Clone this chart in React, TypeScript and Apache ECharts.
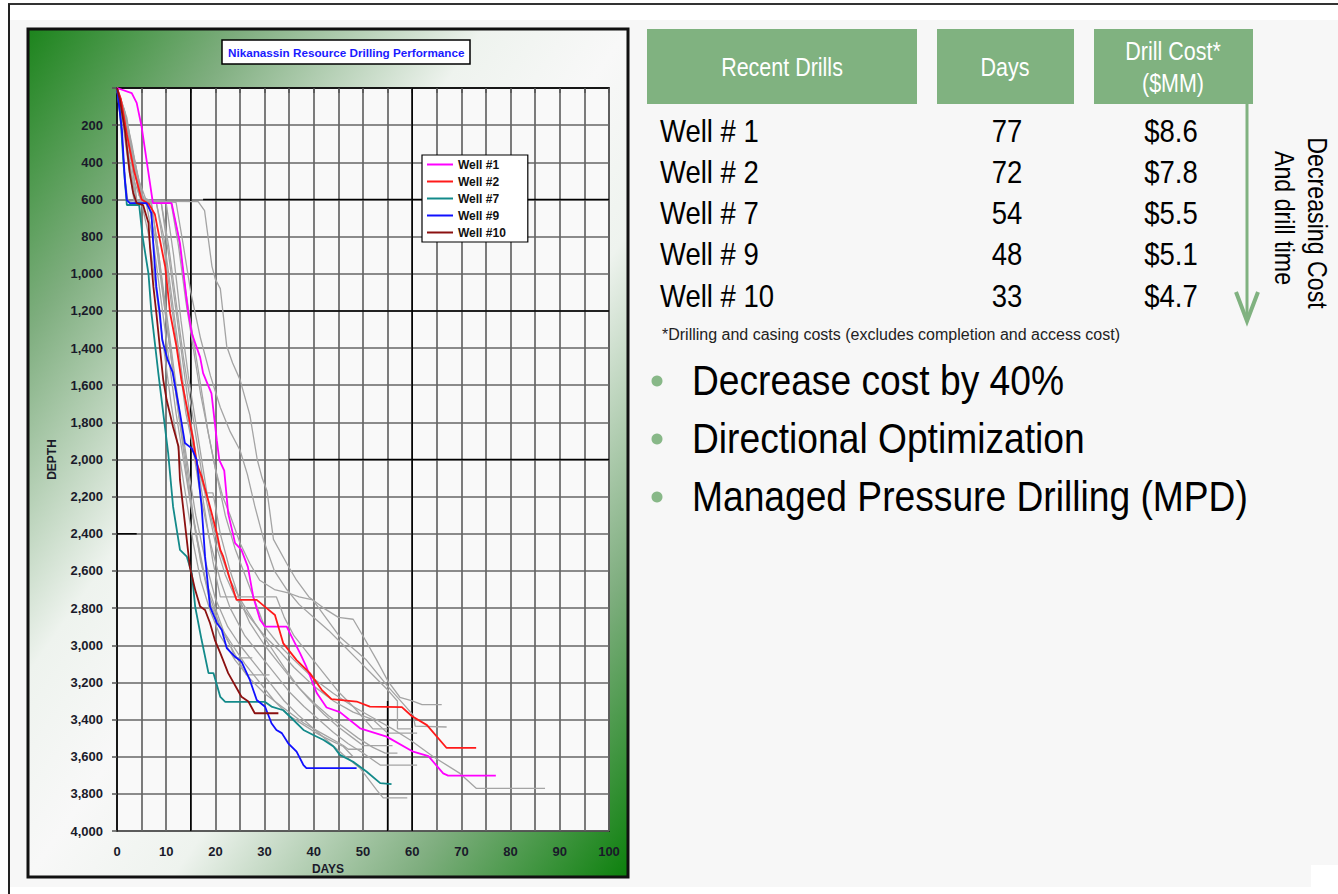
import React, { useEffect, useRef } from 'react';
import * as echarts from 'echarts';

type Pt = [number, number];

// ---------- chart data (days, depth) ----------
const well1: Pt[] = [[0,0],[3,28],[4,80],[5,208],[6.3,441],[7.3,620],[11.1,620],[12.8,835],[14.4,1195],[15.2,1320],[16.9,1450],[17.5,1535],[19.2,1644],[20.3,1900],[20.8,2003],[21.8,2060],[22.6,2290],[24,2450],[25.3,2487],[26.6,2578],[27.7,2740],[29.1,2864],[30.1,2900],[34.5,2900],[35.8,2970],[37.2,3042],[38.5,3117],[40.6,3257],[42.6,3335],[45.3,3360],[49.4,3447],[54.8,3492],[60.2,3573],[63.3,3597],[66.3,3690],[67.3,3702],[77,3702]];
const well2: Pt[] = [[0,0],[0.8,60],[2,250],[3.5,450],[5,600],[6.5,625],[7.7,680],[9.8,963],[10.8,1212],[12.1,1393],[13.1,1572],[14.2,1717],[15.5,1895],[16.2,2020],[17.2,2092],[18.9,2254],[20.3,2397],[21,2487],[21.6,2523],[23,2649],[24.3,2756],[28.4,2756],[30.4,2800],[32.1,2837],[33.8,2990],[36.5,3080],[39.2,3150],[41.6,3240],[43.6,3290],[48.7,3303],[51.4,3330],[57.9,3333],[59.9,3381],[63,3430],[67,3553],[73,3553]];
const well7: Pt[] = [[0,0],[0.7,150],[1.3,400],[2,630],[4.5,630],[5.2,800],[6.4,1000],[7,1212],[8.4,1535],[9.4,1750],[10.4,1966],[11.4,2254],[12.8,2487],[14.2,2523],[15.2,2612],[15.9,2794],[17.2,2972],[18.6,3150],[19.6,3150],[21,3278],[22,3305],[30.1,3305],[31.4,3330],[33.8,3350],[35.5,3393],[37.9,3456],[39.9,3483],[42,3510],[44,3545],[45.3,3590],[48,3627],[50.7,3680],[53.5,3742],[55.8,3748]];
const well9: Pt[] = [[0,0],[1,226],[1.6,495],[2,603],[2.6,620],[6,620],[7,673],[7.4,855],[8,1071],[8.7,1212],[9.2,1357],[10.3,1464],[11.3,1530],[12.8,1750],[13.8,1911],[15.2,1940],[16.2,2003],[17.2,2254],[17.9,2523],[18.9,2792],[20.3,2880],[21.3,2918],[22.3,3015],[24,3062],[25.3,3088],[27,3187],[28.4,3295],[30.1,3331],[31.4,3420],[32.4,3456],[33.5,3473],[34.8,3528],[36.5,3573],[37.9,3645],[38.5,3662],[48.7,3662]];
const well10: Pt[] = [[0,0],[0.6,65],[1.6,226],[2.6,458],[3.3,565],[4,620],[5.3,630],[6.4,727],[6.7,855],[7.4,1071],[8,1212],[8.7,1393],[9.4,1572],[10.1,1680],[11.4,1825],[12.5,1930],[12.8,2110],[13.8,2342],[14.8,2577],[15.9,2703],[16.9,2792],[17.9,2810],[18.9,2880],[19.9,2972],[21,3042],[22.6,3150],[24.3,3230],[25.3,3277],[26.7,3303],[28,3366],[32.8,3366]];

const gray1: Pt[] = [[0,0],[1.5,120],[3,300],[4.5,520],[5.5,605],[10,610],[16.5,612],[17.8,660],[18.5,800],[19.3,960],[20,1030],[21,1080],[22.3,1390],[23.5,1480],[25,1570],[27,1760],[28.5,2000],[29.5,2100],[30.5,2170],[31.8,2430],[34.5,2560],[36.5,2650],[39,2740],[42,2800],[45,2850],[48,2860],[50,2950],[52.8,3080],[55,3190],[57.5,3280],[60,3300],[62,3320],[66,3320]];
const gray2: Pt[] = [[0,0],[2,180],[4,450],[5.5,610],[11,620],[12.5,850],[14,1150],[15.5,1400],[17,1650],[18.5,1850],[20,2050],[21.5,2200],[23,2300],[25,2450],[27,2560],[29,2650],[32,2700],[35,2720],[37,2740],[39.8,2756],[45.3,2955],[50.7,3080],[55,3220],[60.2,3376],[60.6,3435],[67,3440]];
const gray3: Pt[] = [[0,0],[2,200],[4.5,500],[6,610],[11,615],[12.5,800],[14,1100],[15.5,1350],[17,1600],[18.5,1850],[20,2050],[22,2300],[24,2480],[26,2620],[28,2760],[30,2900],[33,3000],[36,3080],[40,3180],[44,3260],[48,3330],[52,3390],[56,3450],[59.6,3510],[64.3,3600],[69.7,3690],[73,3770],[87,3770]];
const gray4: Pt[] = [[0,0],[1.5,150],[3.5,420],[5,600],[9,620],[10.5,850],[12,1150],[13.5,1450],[15,1700],[16.5,1950],[18,2200],[20,2450],[22,2620],[24,2740],[27,2850],[30,2950],[33,3030],[36,3120],[40,3220],[44,3300],[48,3360],[52,3400],[55,3473],[61,3473]];
const gray5: Pt[] = [[0,0],[1,100],[3,350],[4.5,580],[8,620],[9.5,800],[11,1100],[12.5,1400],[14,1700],[15.5,1950],[17,2200],[19,2450],[21,2650],[23,2800],[26,2950],[29,3050],[32,3150],[35,3250],[38,3330],[41,3400],[44,3470],[47,3530],[50,3580],[53.5,3645],[61,3645]];
const gray6: Pt[] = [[0,0],[1.5,120],[3,380],[4,600],[7,625],[8.5,900],[10,1200],[11.5,1500],[13,1800],[14.5,2050],[16,2300],[18,2550],[20,2750],[22.5,2900],[25,3000],[28,3100],[31,3200],[34,3300],[37,3380],[40,3450],[43,3520],[46,3590],[49.4,3662],[52.8,3780],[54.1,3822],[59,3822]];
const gray7: Pt[] = [[0,0],[2,220],[4,500],[5.5,615],[10,620],[11.5,900],[13,1250],[14.5,1550],[16,1800],[17.5,2050],[19,2300],[21,2500],[23,2650],[25,2750],[28,2880],[31,3000],[34,3120],[37,3230],[40,3310],[43,3380],[46,3440],[49,3500],[52,3550],[54.5,3581],[57,3581]];
const gray8: Pt[] = [[0,0],[1,150],[2.5,450],[3.5,610],[6,625],[7.5,850],[9,1150],[10.5,1450],[12,1750],[13.5,2000],[15,2250],[16.5,2450],[18,2650],[20,2800],[22,2950],[24,3050],[26.3,3160],[31,3160]];
const gray9: Pt[] = [[0,0],[1.5,200],[3,480],[4,610],[7,620],[8.5,900],[10,1250],[11.5,1550],[13,1850],[14.5,2150],[16,2400],[17.5,2600],[19,2780],[21,2900],[23,3000],[24,3068],[27.5,3068]];
const gray10: Pt[] = [[0,0],[2,250],[3.5,500],[5,615],[9,620],[10.5,900],[12,1200],[13.5,1500],[15,1800],[16.5,2050],[18,2300],[19.5,2550],[21,2740],[32.4,2740],[34,2850],[36,2950],[39,3050],[42,3150],[45,3250],[48,3330],[52,3450],[55,3450]];
const gray11: Pt[] = [[0,0],[1,120],[2.5,400],[4,610],[8,615],[9.5,850],[11,1150],[12.5,1450],[14,1750],[16,2000],[17.9,2180],[19.5,2180],[21,2400],[23,2600],[25,2760],[27,2880],[30,3000],[33,3100],[36,3200],[39,3290],[42,3370],[45,3440],[48,3500],[50,3540],[56,3540]];
const gray12: Pt[] = [[0,0],[2,160],[3.5,420],[5,600],[6.5,630],[8,850],[9.5,1150],[11,1450],[12.5,1750],[14,2000],[15.5,2300],[17,2550],[19,2750],[21,2900],[23.5,3000],[26,3100],[29,3200],[32,3300],[35,3380],[38,3430],[41,3480],[44,3520],[46,3545],[48,3600],[50,3600]];
const gray13: Pt[] = [[0,0],[2,200],[4,480],[5.5,605],[12,615],[13.5,850],[15,1100],[17,1350],[19,1550],[21,1720],[23,1850],[25,1950],[26.5,2080],[28,2250],[30,2450],[32,2600],[34.5,2700],[37,2780],[40,2850],[43,2920],[46,3000],[49,3080],[52,3160],[55,3240],[57,3300],[57,3450],[60,3450]];
const gray14: Pt[] = [[0,0],[0.8,200],[1.5,450],[2.2,610],[5,620],[6.5,800],[8,1100],[9.5,1400],[11,1700],[12.5,1950],[14,2200],[15.5,2450],[17,2650],[19,2820],[21,2950],[24,3080],[27,3180],[30,3260],[34,3340],[38,3420],[42,3480],[46,3540],[47,3560],[50,3560]];

// dark overlay grid segments (from a second overlaid chart grid)
const overlayDay15: Pt[] = [[15,0],[15,4000]];
const overlayDay60: Pt[] = [[60,0],[60,4000]];
const overlayDay55: Pt[] = [[55,3300],[55,4000]];
const overlayDepth600: Pt[] = [[17.5,600],[100,600]];
const overlayDepth1200: Pt[] = [[15,1200],[100,1200]];
const overlayDepth2000: Pt[] = [[35,2000],[100,2000]];
const overlayDepth2400: Pt[] = [[0,2400],[4,2400]];

const wellNames = ['Well #1', 'Well #2', 'Well #7', 'Well #9', 'Well #10'];
const wellColors = ['#ff00ff', '#ff1a1a', '#138a8a', '#1010ff', '#8b1010'];
const wellData = [well1, well2, well7, well9, well10];
const grayWells = [gray1, gray2, gray3, gray4, gray5, gray6, gray7, gray8, gray9, gray10, gray11, gray12, gray13, gray14];
const overlays = [overlayDay15, overlayDay60, overlayDay55, overlayDepth600, overlayDepth1200, overlayDepth2000, overlayDepth2400];

const dayTickLabels = ['0', '', '10', '', '20', '', '30', '', '40', '', '50', '', '60', '', '70', '', '80', '', '90', '', '100'];
const depthTickLabels = ['', '200', '400', '600', '800', '1,000', '1,200', '1,400', '1,600', '1,800', '2,000', '2,200', '2,400', '2,600', '2,800', '3,000', '3,200', '3,400', '3,600', '3,800', '4,000'];

// ---------- table / text data ----------
const headers = ['Recent Drills', 'Days', 'Drill Cost*', '($MM)'];
const tableWells = ['Well # 1', 'Well # 2', 'Well # 7', 'Well # 9', 'Well # 10'];
const tableDays = ['77', '72', '54', '48', '33'];
const tableCost = ['$8.6', '$7.8', '$5.5', '$5.1', '$4.7'];
const footnote = '*Drilling and casing costs (excludes completion and access cost)';
const arrowLabels = ['Decreasing Cost', 'And drill time'];
const bullets = ['Decrease cost by 40%', 'Directional Optimization', 'Managed Pressure Drilling (MPD)'];
const chartTitle = 'Nikanassin Resource Drilling Performance';

const FONT = "'Liberation Sans', Arial, Helvetica, sans-serif";
const GREEN = '#80b280';

export default function App() {
  const ref = useRef<HTMLDivElement>(null);
  useEffect(() => {
    if (!ref.current) return;
    const chart = echarts.init(ref.current, null, { renderer: 'svg', width: 1338, height: 894 });

    const narrow = 0.86;
    const graphic: any[] = [];
    // page
    graphic.push({ type: 'rect', z: -100, shape: { x: 0, y: 0, width: 1338, height: 894 }, style: { fill: '#ffffff' } });
    graphic.push({ type: 'rect', z: -99, shape: { x: 10, y: 20, width: 1328, height: 867 }, style: { fill: '#f7f7f7' } });
    graphic.push({ type: 'rect', z: -98, shape: { x: 1311, y: 865, width: 27, height: 22 }, style: { fill: '#ffffff' } });
    graphic.push({ type: 'line', z: -97, shape: { x1: 8, y1: 4, x2: 1338, y2: 4 }, style: { stroke: '#333', lineWidth: 2 } });
    graphic.push({ type: 'line', z: -97, shape: { x1: 9, y1: 4, x2: 9, y2: 894 }, style: { stroke: '#222', lineWidth: 2 } });
    // chart panel with diagonal green gradient
    graphic.push({
      type: 'rect', z: -90,
      shape: { x: 28, y: 29, width: 600, height: 848 },
      style: {
        fill: new echarts.graphic.LinearGradient(0, 0, 1, 1, [
          { offset: 0, color: '#1c841c' },
          { offset: 0.18, color: '#7fae7f' },
          { offset: 0.38, color: '#eef3ee' },
          { offset: 0.5, color: '#f8f8f8' },
          { offset: 0.62, color: '#eef3ee' },
          { offset: 0.82, color: '#7fae7f' },
          { offset: 1, color: '#0c800c' },
        ]),
        stroke: '#111', lineWidth: 3,
      },
    });

    // table headers
    const headerBoxes = [
      { x: 647, w: 270 },
      { x: 937, w: 137 },
      { x: 1094, w: 159 },
    ];
    headerBoxes.forEach((b) => {
      graphic.push({ type: 'rect', z: 5, shape: { x: b.x, y: 29, width: b.w, height: 75 }, style: { fill: GREEN } });
    });
    const headerText = (text: string, cx: number, cy: number) => ({
      type: 'text', z: 6, x: cx, y: cy, scaleX: narrow,
      style: { text, fill: '#ffffff', fontSize: 25, fontFamily: FONT, align: 'center', verticalAlign: 'middle' },
    });
    graphic.push(headerText(headers[0], 782, 67));
    graphic.push(headerText(headers[1], 1005, 67));
    graphic.push(headerText(headers[2], 1173, 51));
    graphic.push(headerText(headers[3], 1173, 83));

    const rowY = [131, 172, 213, 254, 296];
    tableWells.forEach((w, i) => {
      graphic.push({ type: 'text', z: 6, x: 660, y: rowY[i], scaleX: narrow,
        style: { text: w, fill: '#000', fontSize: 32, fontFamily: FONT, align: 'left', verticalAlign: 'middle' } });
      graphic.push({ type: 'text', z: 6, x: 1007, y: rowY[i], scaleX: narrow,
        style: { text: tableDays[i], fill: '#000', fontSize: 32, fontFamily: FONT, align: 'center', verticalAlign: 'middle' } });
      graphic.push({ type: 'text', z: 6, x: 1171, y: rowY[i], scaleX: narrow,
        style: { text: tableCost[i], fill: '#000', fontSize: 32, fontFamily: FONT, align: 'center', verticalAlign: 'middle' } });
    });

    // arrow
    graphic.push({ type: 'line', z: 6, shape: { x1: 1247, y1: 104, x2: 1247, y2: 318 }, style: { stroke: GREEN, lineWidth: 3 } });
    graphic.push({ type: 'polyline', z: 6, shape: { points: [[1236, 292], [1247, 321], [1258, 292]] }, style: { stroke: GREEN, lineWidth: 4, fill: 'none' } });
    graphic.push({ type: 'text', z: 6, x: 1318, y: 223, rotation: -Math.PI / 2, scaleX: narrow,
      style: { text: arrowLabels[0], fill: '#000', fontSize: 27, fontFamily: FONT, align: 'center', verticalAlign: 'middle' } });
    graphic.push({ type: 'text', z: 6, x: 1285, y: 218, rotation: -Math.PI / 2, scaleX: narrow,
      style: { text: arrowLabels[1], fill: '#000', fontSize: 27, fontFamily: FONT, align: 'center', verticalAlign: 'middle' } });

    graphic.push({ type: 'text', z: 6, x: 662, y: 334,
      style: { text: footnote, fill: '#222', fontSize: 16, fontFamily: FONT, align: 'left', verticalAlign: 'middle' } });

    const bulletY = [381, 439, 497];
    bullets.forEach((b, i) => {
      graphic.push({ type: 'circle', z: 6, shape: { cx: 657, cy: bulletY[i], r: 5.5 }, style: { fill: '#88b888' } });
      graphic.push({ type: 'text', z: 6, x: 692, y: bulletY[i], scaleX: 0.865,
        style: { text: b, fill: '#000', fontSize: 43, fontFamily: FONT, align: 'left', verticalAlign: 'middle' } });
    });

    const series: any[] = [];
    overlays.forEach((d) => series.push({
      type: 'line', data: d, symbol: 'none', silent: true, z: 2,
      lineStyle: { color: '#000', width: 1.5 },
    }));
    grayWells.forEach((d) => series.push({
      type: 'line', data: d, symbol: 'none', silent: true, z: 3,
      lineStyle: { color: '#a4a4a4', width: 1.3 },
    }));
    wellData.forEach((d, i) => series.push({
      type: 'line', name: wellNames[i], data: d, symbol: 'none', z: 4,
      itemStyle: { color: wellColors[i] },
      lineStyle: { color: wellColors[i], width: 1.8 },
    }));

    const axisLabelStyle = { fontSize: 13, fontWeight: 'bold', color: '#1a1a2a', fontFamily: FONT };

    chart.setOption({
      animation: false,
      title: {
        text: chartTitle, left: 222, top: 40,
        backgroundColor: '#ffffff', borderColor: '#000', borderWidth: 1.5,
        padding: [6, 6],
        textStyle: { color: '#1a1aff', fontSize: 11.7, fontWeight: 'bold', fontFamily: FONT },
      },
      legend: {
        data: wellNames, orient: 'vertical', left: 422, top: 155,
        icon: 'rect',
        backgroundColor: '#ffffff', borderColor: '#000', borderWidth: 1.2,
        padding: [3, 22, 3, 5], itemGap: 4, itemWidth: 26, itemHeight: 2,
        textStyle: { fontSize: 12, fontWeight: 'bold', color: '#111', fontFamily: FONT, lineHeight: 13 },
        selectedMode: false,
      },
      grid: {
        left: 117, top: 88, width: 492, height: 743,
        show: true, backgroundColor: '#f9f9f9', borderColor: '#000', borderWidth: 1.5,
      },
      xAxis: {
        type: 'value', min: 0, max: 100, interval: 5,
        name: 'DAYS', nameLocation: 'middle', nameGap: 30,
        nameTextStyle: { fontSize: 12, fontWeight: 'bold', color: '#1a1a2a', fontFamily: FONT, padding: [0, 70, 0, 0] },
        axisLine: { lineStyle: { color: '#000', width: 1.5 } },
        axisTick: { show: true, length: 5, lineStyle: { color: '#555', width: 1.5 } },
        axisLabel: { ...axisLabelStyle, margin: 14, formatter: (v: number) => dayTickLabels[Math.round(v / 5)] ?? '' },
        splitLine: { show: true, lineStyle: { color: '#666', width: 1.7 } },
      },
      yAxis: {
        type: 'value', min: 0, max: 4000, interval: 200, inverse: true,
        name: 'DEPTH', nameLocation: 'middle', nameGap: 59,
        nameTextStyle: { fontSize: 12, fontWeight: 'bold', color: '#1a1a2a', fontFamily: FONT },
        axisLine: { lineStyle: { color: '#000', width: 1.5 } },
        axisTick: { show: true, length: 5, lineStyle: { color: '#555', width: 1.5 } },
        axisLabel: { ...axisLabelStyle, margin: 14, formatter: (v: number) => depthTickLabels[Math.round(v / 200)] ?? '' },
        splitLine: { show: true, lineStyle: { color: '#666', width: 1.7 } },
      },
      graphic,
      series,
    });
    return () => chart.dispose();
  }, []);

  return <div ref={ref} style={{ position: 'absolute', left: 0, top: 0, width: 1338, height: 894 }} />;
}
